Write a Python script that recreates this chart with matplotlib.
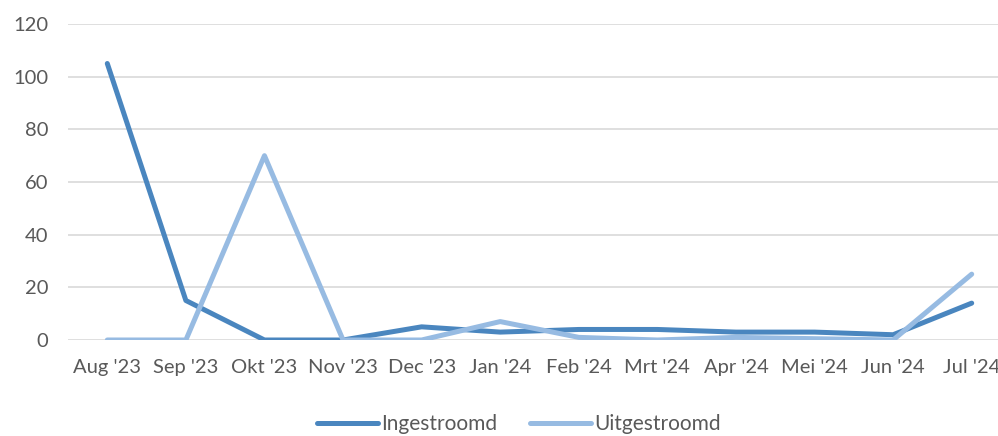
import matplotlib.pyplot as plt

months = ["Aug '23", "Sep '23", "Okt '23", "Nov '23", "Dec '23", "Jan '24",
          "Feb '24", "Mrt '24", "Apr '24", "Mei '24", "Jun '24", "Jul '24"]
ingestroomd = [105, 15, 0, 0, 5, 3, 4, 4, 3, 3, 2, 14]
uitgestroomd = [0, 0, 70, 0, 0, 7, 1, 0, 1, 0.5, 0, 25]
y_ticks = [0, 20, 40, 60, 80, 100, 120]

DARK = "#4a86bf"
LIGHT = "#97bbe2"
TEXT = "#595959"

plt.rcParams["font.family"] = ["Lato", "DejaVu Sans"]

fig = plt.figure(figsize=(9.98, 4.36), dpi=100)
# plot area runs past the right edge, as in the source (last label is clipped)
ax = fig.add_axes([68 / 998, 96 / 436, 943 / 998, 316 / 436])

x = range(len(months))
ax.plot(x, ingestroomd, color=DARK, lw=3.6, solid_capstyle="round", label="Ingestroomd", zorder=3)
ax.plot(x, uitgestroomd, color=LIGHT, lw=3.6, solid_capstyle="round", label="Uitgestroomd", zorder=3)

ax.set_xlim(-0.5, len(months) - 0.5)
ax.set_ylim(0, 120)
ax.set_yticks(y_ticks)
ax.set_xticks(list(x))
ax.set_xticklabels(months)
ax.grid(axis="y", color="#d9d9d9", lw=1.2)
ax.set_axisbelow(True)
for s in ax.spines.values():
    s.set_visible(False)
ax.tick_params(length=0, labelsize=14.5, colors=TEXT)
ax.tick_params(axis="x", pad=14)
ax.tick_params(axis="y", pad=14)

leg = fig.legend(loc="center", bbox_to_anchor=(519 / 998, 1 - 424 / 436), ncol=2,
                 frameon=False, fontsize=15, handlelength=2.9, handletextpad=0.15,
                 columnspacing=1.6)
for t in leg.get_texts():
    t.set_color(TEXT)

fig.savefig("out.png", dpi=100)
